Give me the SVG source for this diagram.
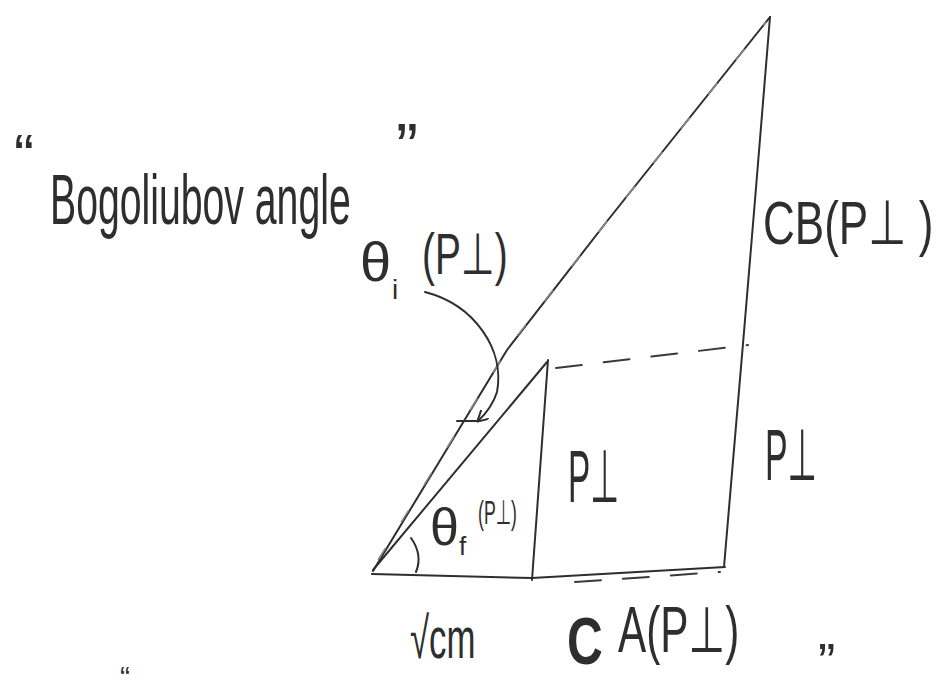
<svg xmlns="http://www.w3.org/2000/svg" width="940" height="694" viewBox="0 0 940 694">
<defs>
<style>
.ln{fill:none;stroke:#2e2e2e;stroke-width:2;stroke-linecap:round;stroke-linejoin:round}
.dash{fill:none;stroke:#3a3a3a;stroke-width:2;stroke-dasharray:26 22;stroke-linecap:round}
.faint{fill:none;stroke:#8a8a8a;stroke-width:1.5;stroke-dasharray:14 30}
.t{font-family:"Liberation Sans","DejaVu Sans",sans-serif;fill:#2e2e2e;font-weight:normal}
.b{font-weight:bold}
</style>
<marker id="ah" markerWidth="12" markerHeight="12" refX="10" refY="6" orient="auto" markerUnits="userSpaceOnUse">
<path d="M0,0 L11,6 L0,12" fill="none" stroke="#2e2e2e" stroke-width="2"/>
</marker>
</defs>
<rect width="940" height="694" fill="#ffffff"/>
<g id="triangle">
<polyline class="ln" points="373,571 507,350 608,220 770,17"/>
<polyline class="faint" points="378,560 510,345 612,215 766,22"/>
<polyline class="ln" points="770,17 755,200 745,320 724,567"/>
<polyline class="ln" points="372,574 532,578 725,567"/>
<polyline class="ln" points="373,570 547,362"/>
<polyline class="ln" points="548,360 532,580"/>
<path class="dash" d="M556,368 L748,345"/>
<path class="dash" d="M575,582 L720,572"/>
<path class="ln" d="M411,538 Q423,555 416,572"/>
</g>
<g id="connectors">
<path class="ln" d="M425,292 C475,305 505,350 497,392 Q492,408 478,421" marker-end="url(#ah)"/>
<path class="ln" d="M457,421 L478,421"/>
</g>
<g id="label-bogoliubov">
<text class="t" x="14" y="176" font-size="60">“</text>
<text class="t" transform="translate(50 224) scale(0.56 1)" font-size="70">Bogoliubov angle</text>
<text class="t" x="396" y="170" font-size="66">”</text>
</g>
<g id="label-theta-i">
<text class="t" x="360" y="281" font-size="56">θ</text>
<text class="t" x="392" y="299" font-size="28">i</text>
<text class="t" transform="translate(422 274) scale(0.67 1)" font-size="58">(P⊥)</text>
</g>
<g id="label-CB">
<text class="t" transform="translate(763 244) scale(0.71 1)" font-size="62">CB(P⊥ )</text>
</g>
<g id="label-P-inner">
<text class="t" transform="translate(568 502) scale(0.45 1)" font-size="74">P⊥</text>
</g>
<g id="label-P-right">
<text class="t" transform="translate(765 480) scale(0.47 1)" font-size="72">P⊥</text>
</g>
<g id="label-theta-f">
<text class="t" x="430" y="545" font-size="52">θ</text>
<text class="t" x="459" y="555" font-size="26">f</text>
<text class="t" transform="translate(478 524) scale(0.52 1)" font-size="34">(P⊥)</text>
</g>
<g id="label-sqrt-cm">
<text class="t" transform="translate(410 658) scale(0.6 1)" font-size="58">√cm</text>
</g>
<g id="label-CA">
<text class="t b" transform="translate(567 664) scale(0.75 1)" font-size="66">C</text>
<text class="t" transform="translate(618 652) scale(0.66 1)" font-size="64">A(P⊥)</text>
</g>
<g id="quotes-bottom">
<text class="t" x="818" y="680" font-size="52">”</text>
<text class="t" x="120" y="687" font-size="30">“</text>
</g>
</svg>
